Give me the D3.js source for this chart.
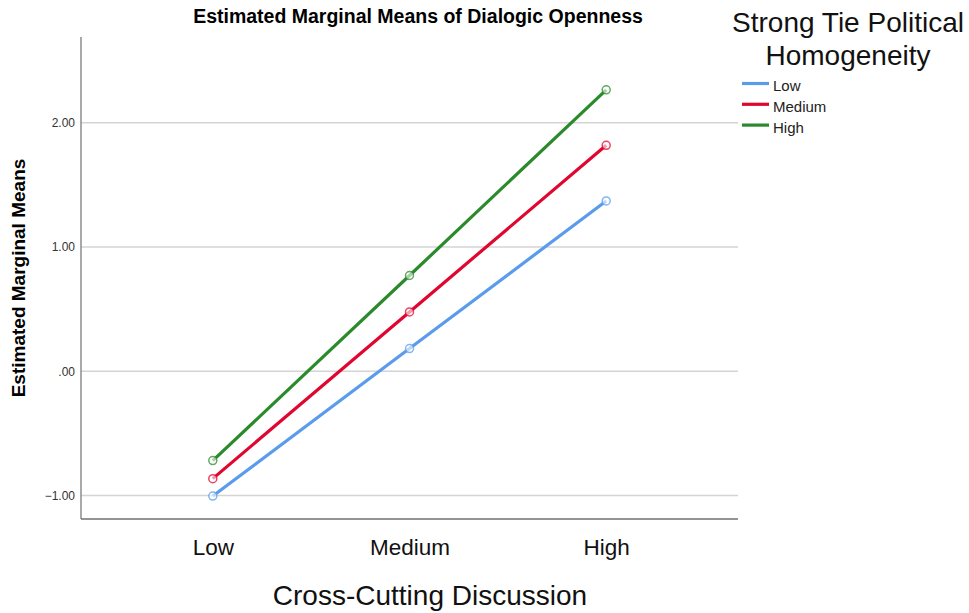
<!DOCTYPE html>
<html>
<head>
<meta charset="utf-8">
<script src="https://cdn.jsdelivr.net/npm/d3@7"></script>
<style>
body { margin: 0; background: #fff; }
svg { font-family: "Liberation Sans", Arial, sans-serif; }
</style>
</head>
<body>
<div id="chart"></div>
<script>
// data
const categories = ["Low", "Medium", "High"];
const seriesNames = ["Low", "Medium", "High"];
const lowValues = [-1.005, 0.182, 1.37];
const mediumValues = [-0.865, 0.477, 1.818];
const highValues = [-0.72, 0.77, 2.265];
const yTicks = [-1, 0, 1, 2];
const colors = ["#5a9ceb", "#e0062f", "#2b8a2b"];

const width = 969, height = 613;
const plot = {left: 81, right: 738, top: 37, bottom: 519};

const svg = d3.select("#chart").append("svg")
	.attr("width", width)
	.attr("height", height);

const x = d3.scalePoint()
	.domain(categories)
	.range([plot.left, plot.right])
	.padding(0.67);
const y = d3.scaleLinear()
	.domain([-1.19, 2.69])
	.range([plot.bottom, plot.top]);

// gridlines
svg.append("g").selectAll("line")
	.data(yTicks)
	.enter().append("line")
		.attr("x1", plot.left).attr("x2", plot.right)
		.attr("y1", d => y(d)).attr("y2", d => y(d))
		.attr("stroke", "#d4d4d4")
		.attr("stroke-width", 1.5);

// y axis
const yAxis = svg.append("g")
	.attr("transform", "translate(" + plot.left + ",0)")
	.call(d3.axisLeft(y).tickValues(yTicks).tickSize(0).tickPadding(6)
		.tickFormat(d => d === 0 ? ".00" : d3.format(".2f")(d)));
yAxis.select(".domain").remove();
yAxis.selectAll("text").attr("font-size", 12).attr("fill", "#333")
	.attr("font-family", "Liberation Sans, Arial, sans-serif");

// x axis
const xAxis = svg.append("g")
	.attr("transform", "translate(0," + plot.bottom + ")")
	.call(d3.axisBottom(x).tickSize(0).tickPadding(20));
xAxis.select(".domain").remove();
xAxis.selectAll("text").attr("font-size", 22.5).attr("fill", "#111")
	.attr("font-family", "Liberation Sans, Arial, sans-serif");

// axis frame lines
svg.append("line")
	.attr("x1", plot.left).attr("x2", plot.left)
	.attr("y1", plot.top).attr("y2", plot.bottom)
	.attr("stroke", "#8c8c8c").attr("stroke-width", 1.5);
svg.append("line")
	.attr("x1", plot.left).attr("x2", plot.right)
	.attr("y1", plot.bottom).attr("y2", plot.bottom)
	.attr("stroke", "#707070").attr("stroke-width", 1.5);

const series = [lowValues, mediumValues, highValues].map((vals, i) => ({
	name: seriesNames[i],
	color: colors[i],
	values: vals.map((v, j) => ({cat: categories[j], v: v}))
}));

const line = d3.line().x(d => x(d.cat)).y(d => y(d.v));

const lines = svg.append("g");
series.forEach(function(s){
	lines.append("path")
		.datum(s.values)
		.attr("fill", "none")
		.attr("stroke", s.color)
		.attr("stroke-width", 3.2)
		.attr("d", line);
	lines.selectAll(null)
		.data(s.values)
		.enter().append("circle")
			.attr("cx", d => x(d.cat))
			.attr("cy", d => y(d.v))
			.attr("r", 4)
			.attr("fill", "#fff")
			.attr("fill-opacity", 0.6)
			.attr("stroke", s.color)
			.attr("stroke-opacity", 0.75)
			.attr("stroke-width", 1.5);
});

// titles
svg.append("text")
	.attr("x", 418).attr("y", 23)
	.attr("text-anchor", "middle")
	.attr("font-size", 19.5).attr("font-weight", "bold")
	.text("Estimated Marginal Means of Dialogic Openness");

svg.append("text")
	.attr("transform", "translate(25,278) rotate(-90)")
	.attr("text-anchor", "middle")
	.attr("font-size", 19).attr("font-weight", "bold")
	.text("Estimated Marginal Means");

svg.append("text")
	.attr("x", 430).attr("y", 605)
	.attr("text-anchor", "middle")
	.attr("font-size", 28)
	.attr("fill", "#111")
	.text("Cross-Cutting Discussion");

// legend
const legend = svg.append("g");
legend.append("text")
	.attr("x", 848).attr("y", 32)
	.attr("text-anchor", "middle")
	.attr("font-size", 28).attr("fill", "#111")
	.text("Strong Tie Political");
legend.append("text")
	.attr("x", 848).attr("y", 65)
	.attr("text-anchor", "middle")
	.attr("font-size", 28).attr("fill", "#111")
	.text("Homogeneity");

const item = legend.selectAll("g.item")
	.data(series)
	.enter().append("g")
		.attr("class", "item")
		.attr("transform", (d, i) => "translate(742," + (83.5 + i * 20.8) + ")");
item.append("line")
	.attr("x1", 0).attr("x2", 27)
	.attr("stroke", d => d.color)
	.attr("stroke-width", 3.2);
item.append("text")
	.attr("x", 31).attr("y", 7.5)
	.attr("font-size", 15).attr("fill", "#222")
	.text(d => d.name);
</script>
</body>
</html>
